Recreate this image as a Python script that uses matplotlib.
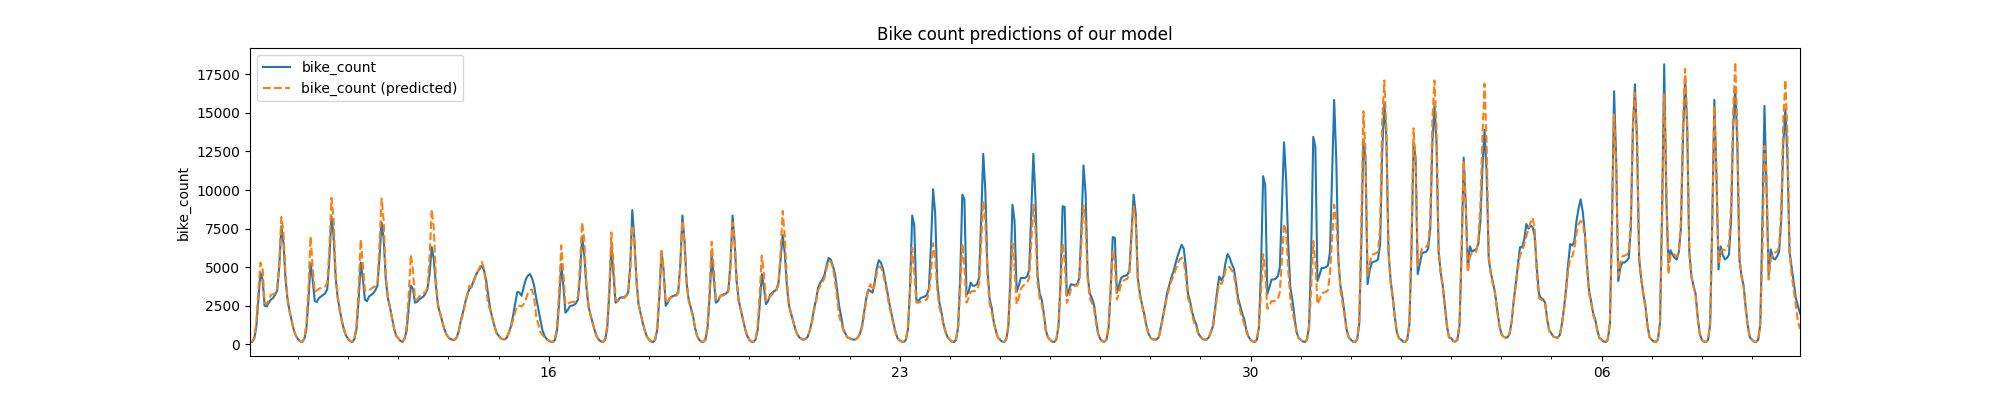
import numpy as np
import pandas as pd
import matplotlib
matplotlib.use("Agg")
import matplotlib.pyplot as plt
import matplotlib.dates as mdates

# hourly counts, 2021-08-10 01:00 -> 2021-09-09 23:00 (one row per day)
bike_count = [
    170, 150, 350, 1100, 2900, 4650, 4200, 2500, 2450, 2700, 2900, 3000, 3200, 3500, 5000, 7650, 6600, 4200, 2900, 2100, 1500, 900, 550,  # 10 Tue
    350, 200, 150, 350, 1000, 2900, 5250, 4200, 2800, 2750, 3000, 3100, 3200, 3300, 3600, 5500, 8300, 7000, 4300, 3000, 2200, 1500, 950, 550,  # 11
    350, 200, 150, 350, 1000, 2900, 5300, 4300, 2900, 2800, 3100, 3200, 3300, 3500, 3800, 5600, 7900, 6800, 4200, 3000, 2400, 1700, 1000, 550,  # 12
    400, 220, 160, 350, 900, 2400, 3800, 3600, 2700, 2750, 2900, 3000, 3100, 3300, 3600, 4600, 6300, 5500, 3800, 2500, 2000, 1500, 1000, 650,  # 13
    450, 350, 280, 300, 450, 900, 1600, 2100, 2700, 3200, 3600, 3700, 4100, 4450, 4700, 4900, 5100, 4800, 4200, 3200, 2300, 1700, 1200, 750,  # 14 Sat
    550, 400, 330, 320, 450, 800, 1200, 1900, 2700, 3400, 3350, 3150, 3700, 4200, 4450, 4550, 4300, 3800, 3000, 2300, 1600, 900, 550, 330,  # 15 Sun
    250, 170, 150, 300, 900, 2800, 5200, 3800, 2050, 2200, 2450, 2500, 2550, 2650, 2900, 4500, 7000, 5800, 3800, 2500, 1900, 1400, 900, 500,  # 16 Mon
    300, 180, 150, 300, 1000, 3300, 6350, 4500, 2700, 2800, 3000, 3050, 3050, 3150, 3350, 5000, 8700, 6800, 4200, 2600, 2000, 1400, 900, 500,  # 17
    300, 180, 150, 300, 1000, 3200, 6050, 4800, 2500, 2700, 3000, 3100, 3150, 3200, 3400, 5200, 8350, 6700, 4000, 2900, 2400, 1900, 1100, 550,  # 18
    300, 180, 150, 300, 1000, 3000, 5750, 4300, 2700, 2800, 3100, 3200, 3250, 3300, 3500, 5200, 8350, 6600, 4000, 2800, 2200, 1600, 1000, 550,  # 19
    300, 180, 150, 300, 900, 2500, 4550, 3700, 2600, 2800, 3200, 3350, 3450, 3550, 4000, 5500, 7100, 5900, 3800, 2500, 2000, 1500, 1000, 650,  # 20
    450, 350, 300, 350, 500, 900, 1500, 2300, 2900, 3700, 4000, 4200, 4500, 5100, 5600, 5500, 5100, 4600, 3600, 2500, 1800, 1000, 700, 450,  # 21 Sat
    400, 330, 300, 330, 450, 700, 1200, 2100, 3000, 3550, 3450, 3350, 4000, 4900, 5450, 5300, 4900, 4200, 3500, 2700, 2050, 1400, 800, 400,  # 22 Sun
    250, 170, 150, 300, 1000, 3800, 8350, 7700, 2900, 2800, 3000, 3050, 3100, 3200, 3600, 6500, 10050, 8500, 4000, 2700, 2100, 1300, 800, 450,  # 23 Mon
    300, 180, 150, 300, 1100, 4500, 9700, 9400, 3200, 3400, 4000, 3800, 3800, 3900, 4300, 8000, 12350, 10000, 5000, 3000, 2400, 1500, 900, 450,  # 24
    300, 180, 150, 300, 1100, 4300, 9050, 8000, 3400, 3800, 4300, 4300, 4300, 4400, 4800, 8500, 12350, 9500, 4500, 3300, 2900, 2000, 900, 450,  # 25
    300, 180, 150, 300, 1100, 4000, 8950, 8900, 3150, 3500, 3900, 3850, 3850, 3900, 4300, 7500, 11600, 9800, 4500, 3300, 3000, 2600, 1600, 700,  # 26
    350, 200, 160, 300, 1000, 3500, 6950, 6900, 3350, 3800, 4300, 4400, 4450, 4500, 4800, 7200, 9700, 8500, 4300, 3300, 2600, 2000, 1300, 750,  # 27
    450, 330, 300, 330, 450, 1100, 1800, 2500, 3300, 3800, 4300, 4700, 5200, 5700, 6100, 6450, 6200, 5000, 3300, 2800, 2100, 1600, 1300, 700,  # 28 Sat
    500, 350, 300, 320, 450, 800, 1200, 2300, 3500, 4400, 4150, 4400, 5300, 5850, 5600, 5200, 4900, 4000, 3000, 2500, 2000, 1600, 900, 500,  # 29 Sun
    300, 180, 150, 300, 1100, 5000, 10900, 10300, 3250, 3700, 4200, 4200, 4250, 4400, 5000, 9000, 13100, 10700, 6500, 3700, 2900, 1800, 800, 400,  # 30 Mon
    300, 180, 150, 300, 1200, 6000, 13450, 12800, 4100, 4500, 4950, 4950, 5000, 5100, 6000, 11000, 15850, 12000, 5500, 3800, 3000, 2000, 900, 450,  # 31
    300, 180, 150, 300, 1300, 6500, 13300, 12000, 3900, 4800, 5300, 5350, 5400, 5500, 6500, 12500, 15600, 13500, 6000, 4200, 3100, 1800, 800, 400,  # 01 Sep
    300, 180, 150, 300, 1300, 6000, 13100, 12000, 4550, 5200, 5900, 5950, 6000, 6200, 7500, 13000, 15450, 13000, 6000, 4650, 3800, 2500, 1200, 450,  # 02
    400, 220, 170, 300, 1200, 6000, 12100, 9000, 4850, 6350, 6000, 6100, 6150, 6500, 8000, 11500, 13900, 11000, 5500, 4650, 4000, 3350, 2300, 1300,  # 03
    700, 500, 430, 450, 700, 1500, 2900, 4000, 5200, 6300, 6300, 6800, 7800, 7500, 7700, 7600, 7000, 5000, 3300, 3000, 2900, 2700, 1600, 900,  # 04 Sat
    700, 500, 450, 430, 600, 1300, 2300, 3600, 5200, 6500, 6400, 6700, 8000, 8800, 9400, 8600, 7200, 5200, 3500, 2800, 2000, 1600, 900, 400,  # 05 Sun
    300, 180, 150, 300, 1300, 8000, 16400, 12000, 4100, 5000, 5300, 5300, 5400, 5600, 7500, 14000, 16850, 13000, 5500, 4200, 3300, 2500, 1200, 450,  # 06 Mon
    300, 180, 150, 300, 1400, 9000, 18150, 9500, 5300, 6100, 5800, 5600, 5500, 6000, 7500, 13500, 17300, 14000, 6000, 4450, 3800, 3300, 1800, 700,  # 07
    300, 180, 150, 300, 1300, 8000, 15850, 11000, 4850, 6350, 5800, 5500, 5600, 5800, 8000, 14000, 16650, 13000, 5500, 4450, 3800, 2400, 1200, 450,  # 08
    300, 180, 150, 300, 1300, 8000, 15450, 10000, 4450, 6150, 5600, 5500, 5700, 6000, 8000, 13000, 15250, 12000, 6000, 5000, 4000, 3000, 2500, 2000,  # 09
]

bike_count_pred = [
    170, 180, 400, 1400, 3500, 5300, 5000, 2700, 2600, 2900, 3200, 3250, 3300, 3600, 5300, 8250, 7300, 4500, 2900, 2100, 1500, 900, 550,
    350, 200, 160, 400, 1300, 3700, 7000, 5000, 3400, 3500, 3600, 3650, 3700, 3750, 4000, 6200, 9500, 8200, 4600, 3100, 2200, 1500, 950, 550,
    350, 200, 160, 400, 1300, 3700, 6800, 5200, 3500, 3450, 3500, 3600, 3700, 3750, 4000, 6500, 9450, 8000, 4500, 3100, 2400, 1700, 1000, 550,
    400, 220, 170, 400, 1200, 3300, 5800, 4800, 2900, 2900, 3100, 3200, 3300, 3400, 3700, 5800, 8750, 7500, 4200, 2600, 2000, 1500, 1000, 650,
    450, 350, 280, 300, 450, 900, 1500, 2000, 2600, 3200, 3800, 3700, 4000, 4400, 4700, 5000, 5350, 4900, 3800, 2600, 2200, 1700, 1200, 750,
    550, 400, 330, 320, 450, 800, 1150, 1600, 2100, 2500, 2500, 2450, 2600, 2900, 3300, 3500, 3550, 3000, 1850, 1300, 800, 600, 450, 330,
    250, 170, 160, 350, 1200, 3500, 6400, 4600, 2600, 2600, 2700, 2750, 2750, 2800, 3100, 5200, 7900, 6800, 4000, 2600, 1900, 1400, 900, 500,
    300, 180, 160, 350, 1200, 3700, 7250, 5200, 2900, 2800, 2950, 3000, 3000, 3100, 3300, 4800, 7700, 6700, 4000, 2600, 2000, 1400, 900, 500,
    300, 180, 160, 350, 1200, 3400, 6050, 4700, 2700, 2800, 3000, 3050, 3100, 3150, 3300, 5000, 8000, 6600, 3900, 2800, 2300, 1800, 1100, 550,
    300, 180, 160, 350, 1200, 3600, 6650, 5000, 2900, 2900, 3100, 3150, 3200, 3250, 3400, 5000, 7900, 6800, 4000, 2700, 2200, 1600, 1000, 550,
    300, 180, 160, 350, 1200, 3300, 5750, 4600, 2800, 2900, 3100, 3250, 3400, 3500, 3900, 6000, 8650, 7000, 4200, 2500, 2000, 1500, 1000, 650,
    450, 350, 300, 350, 500, 900, 1400, 2200, 2800, 3500, 3800, 4000, 4300, 4900, 5400, 5350, 5000, 4200, 3000, 1850, 1400, 900, 650, 450,
    400, 330, 300, 330, 450, 700, 1100, 1900, 2800, 3600, 3900, 3500, 3800, 4600, 5050, 5000, 4600, 4000, 3300, 2500, 1900, 1300, 750, 400,
    250, 170, 160, 350, 1200, 3500, 6250, 4600, 2700, 2700, 2750, 2800, 2850, 2900, 3300, 4600, 6550, 5600, 3500, 2400, 1900, 1200, 750, 450,
    300, 180, 160, 350, 1200, 3600, 6550, 5000, 2700, 3000, 3400, 3450, 3450, 3500, 3900, 6500, 9300, 8000, 4500, 2700, 2100, 1400, 850, 450,
    300, 180, 160, 350, 1200, 3500, 6550, 5000, 2600, 3000, 3600, 3800, 3900, 4000, 4300, 6600, 9050, 7500, 4000, 3000, 2600, 1800, 850, 450,
    300, 180, 160, 350, 1200, 3500, 6550, 5400, 2700, 3000, 3600, 3750, 3800, 3800, 4100, 6500, 9000, 7800, 4300, 3000, 2700, 2300, 1400, 650,
    350, 200, 170, 350, 1200, 3600, 6100, 5300, 2900, 3300, 3900, 4100, 4200, 4250, 4600, 7000, 8950, 8000, 4200, 3100, 2500, 1900, 1250, 700,
    450, 330, 300, 330, 450, 1000, 1700, 2400, 3100, 3600, 4100, 4400, 4800, 5200, 5500, 5600, 5400, 4400, 3000, 2600, 1900, 1400, 1100, 650,
    500, 350, 300, 320, 450, 800, 1100, 2100, 3200, 4000, 3900, 4200, 4800, 5050, 5000, 4800, 4500, 3700, 2700, 2200, 1700, 1300, 800, 450,
    300, 180, 160, 350, 1200, 3400, 5850, 4800, 2300, 2500, 2800, 2800, 2850, 2900, 3400, 5500, 7800, 7300, 4800, 3000, 2100, 1500, 750, 400,
    300, 180, 160, 350, 1200, 3600, 6700, 5300, 2600, 2900, 3300, 3350, 3400, 3500, 4600, 6800, 9050, 8000, 5500, 3500, 2700, 1800, 850, 450,
    300, 180, 160, 350, 1500, 8000, 15100, 12500, 4450, 5200, 5800, 5850, 5900, 6000, 7500, 14500, 17100, 14000, 6000, 4000, 3000, 1800, 800, 400,
    300, 180, 160, 350, 1400, 6500, 14000, 12000, 5100, 5600, 6200, 6250, 6300, 6500, 8000, 14500, 17100, 14000, 6200, 4600, 3700, 2400, 1150, 450,
    400, 220, 180, 350, 1300, 6000, 11900, 9000, 4650, 5700, 5900, 5950, 6000, 6800, 9000, 13500, 16900, 13000, 5800, 4500, 3900, 3300, 2200, 1250,
    700, 500, 430, 450, 700, 1500, 2800, 3800, 4900, 5800, 6000, 6500, 7000, 7500, 7900, 8200, 7500, 4500, 3000, 2900, 2800, 2600, 1500, 850,
    700, 500, 450, 430, 600, 1300, 2200, 3400, 4800, 5600, 5700, 6200, 7200, 7800, 8000, 7900, 7000, 5000, 3300, 2700, 1900, 1500, 850, 400,
    300, 180, 160, 350, 1500, 7500, 14900, 11500, 4450, 5300, 5700, 5750, 5800, 6000, 8000, 14000, 16300, 13500, 5700, 4200, 3200, 2400, 1150, 450,
    300, 180, 160, 350, 1500, 8000, 16200, 10500, 4550, 5800, 5900, 5800, 5700, 6000, 8000, 14500, 17850, 14500, 6000, 4400, 3700, 3200, 1700, 650,
    300, 180, 160, 350, 1500, 7500, 15450, 11000, 5300, 6000, 6150, 6100, 6200, 6500, 9000, 15000, 18300, 14000, 5700, 4400, 3700, 2300, 1150, 450,
    300, 180, 160, 350, 1400, 6000, 12850, 11000, 4200, 5500, 5900, 5950, 6000, 6300, 8500, 14500, 17150, 13500, 6000, 4500, 3500, 2500, 1500, 1000,
]

assert len(bike_count) == len(bike_count_pred)

dates = pd.date_range("2021-08-10 01:00", periods=len(bike_count), freq="h")

fig, ax = plt.subplots(figsize=(20, 4), dpi=100)
ax.plot(dates, bike_count, color="C0", label="bike_count")
ax.plot(dates, bike_count_pred, color="C1", linestyle="--", label="bike_count (predicted)")
ax.set_xlim(dates[0], dates[-1])

# weekly day numbers, daily minor ticks, month name on the 1st (mostly below the canvas)
ax.xaxis.set_major_locator(mdates.WeekdayLocator(byweekday=mdates.MO))
ax.xaxis.set_major_formatter(mdates.DateFormatter("%d"))
ax.xaxis.set_minor_locator(mdates.DayLocator())


def minor_label(x, pos):
    d = mdates.num2date(x)
    if d.day == 1:
        return "\n\n%s\n%d" % (d.strftime("%b"), d.year)
    return ""


ax.xaxis.set_minor_formatter(plt.FuncFormatter(minor_label))
ax.tick_params(axis="x", which="minor", pad=8.5)

ax.set_ylabel("bike_count")
ax.set_title("Bike count predictions of our model")
ax.legend(loc="upper left")

plt.savefig("out.png")
